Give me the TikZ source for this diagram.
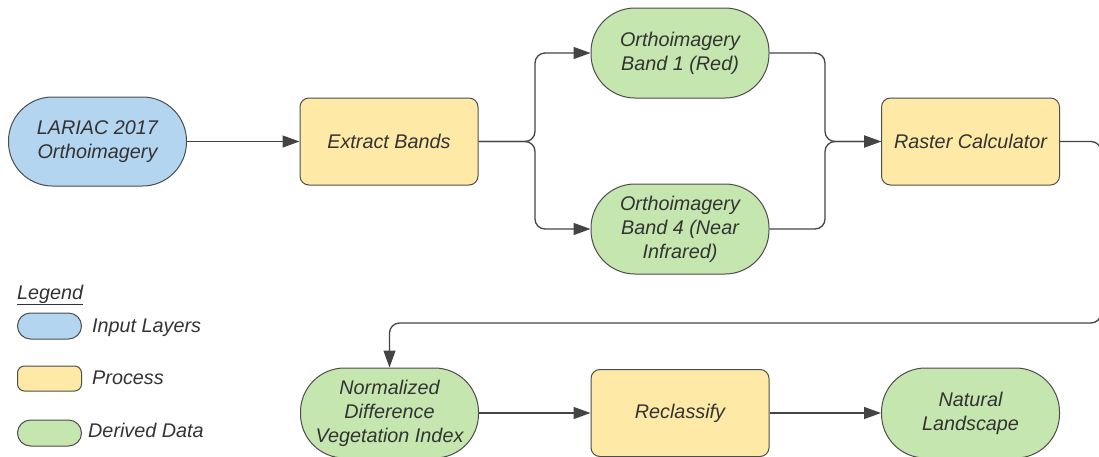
\documentclass[tikz,border=0pt]{standalone}
\usepackage{fontspec}
\setmainfont{Liberation Sans}
\usetikzlibrary{arrows.meta}

\definecolor{inblue}{HTML}{B3D5EF}
\definecolor{procyel}{HTML}{FFE9A6}
\definecolor{dergreen}{HTML}{C5E6AF}
\definecolor{edgegray}{HTML}{4D4D4D}
\definecolor{linegray}{HTML}{444444}
\definecolor{txt}{HTML}{333333}

\tikzset{
  base/.style={draw=edgegray, line width=1pt, text=txt,
    font=\itshape\fontsize{19.8}{24}\selectfont, align=center,
    minimum width=178pt, inner sep=0pt},
  layer/.style={base, fill=inblue, minimum height=89pt, rounded corners=44pt},
  proc/.style={base, fill=procyel, minimum height=87pt, rounded corners=9pt},
  derived/.style={base, fill=dergreen, minimum height=90pt, rounded corners=44pt},
  flow/.style={draw=linegray, line width=1.3pt, rounded corners=10pt,
    -{Triangle[length=17pt,width=12pt]}},
  legtxt/.style={text=txt, font=\itshape\fontsize{19.8}{24}\selectfont, inner sep=0pt},
  legkey/.style={draw=edgegray, line width=1pt, minimum width=64pt, inner sep=0pt},
}

\begin{document}
\begin{tikzpicture}[x=1pt, y=-1pt]
  \useasboundingbox (0,0) rectangle (1099,456);
  \fill[white] (0,0) rectangle (1099,456);
  \clip (0,0) rectangle (1099,456);

  % top row
  \node[layer]   (lariac) at (97.5,141.5) {LARIAC 2017\\Orthoimagery};
  \node[proc]    (ext)    at (389,141.5)  {Extract Bands};
  \node[derived] (b1)     at (680,53)     {Orthoimagery\\Band 1 (Red)};
  \node[derived] (b4)     at (680,229)    {Orthoimagery\\Band 4 (Near\\Infrared)};
  \node[proc]    (rc)     at (970.5,141.5){Raster Calculator};

  % bottom row
  \node[derived] (ndvi)   at (389.5,413)  {Normalized\\Difference\\Vegetation Index};
  \node[proc]    (recl)   at (680,413)    {Reclassify};
  \node[derived] (nat)    at (970.5,413)  {Natural\\Landscape};

  % routing points
  \coordinate (split) at (535,141.5);
  \coordinate (merge) at (825,141.5);
  \coordinate (ret)   at (1101,323);

  % connectors
  \draw[flow] (lariac) -- (ext);
  \draw[flow] (ext.east) -- (split) |- (b1.west);
  \draw[flow] (ext.east) -- (split) |- (b4.west);
  \draw[flow] (b1.east) -| (merge) -- (rc.west);
  \draw[flow] (b4.east) -| (merge) -- (rc.west);
  \draw[flow] (rc.east) -| (ret) -| (ndvi.north);
  \draw[flow] (ndvi) -- (recl);
  \draw[flow] (recl) -- (nat);

  % legend
  \node[legtxt, anchor=base west] (legtitle) at (17,299) {\underline{Legend}};
  \node[legkey, fill=inblue, minimum height=26pt, rounded corners=13pt] (kin) at (49.5,326) {};
  \node[legtxt, anchor=base west] (tin) at (92,332) {Input Layers};
  \node[legkey, fill=procyel, minimum height=25pt, rounded corners=7pt] (kproc) at (49.5,378.5) {};
  \node[legtxt, anchor=base west] (tproc) at (92,384) {Process};
  \node[legkey, fill=dergreen, minimum height=26pt, rounded corners=13pt] (kder) at (49.5,433) {};
  \node[legtxt, anchor=base west] (tder) at (88,437) {Derived Data};
\end{tikzpicture}
\end{document}
